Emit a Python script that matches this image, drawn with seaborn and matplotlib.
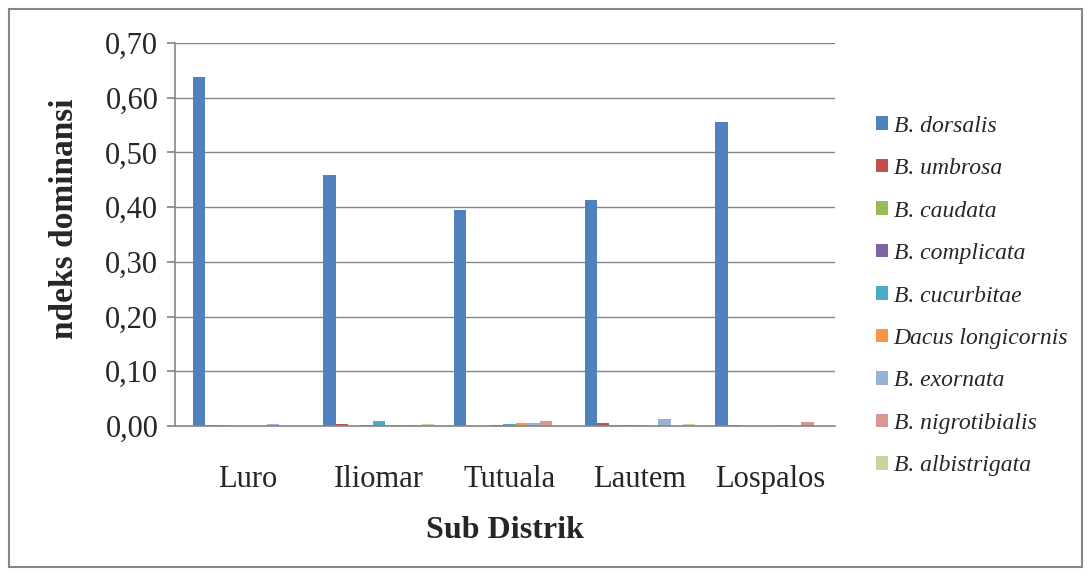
import matplotlib
matplotlib.use("Agg")
import matplotlib.pyplot as plt
import seaborn as sns
import pandas as pd
from matplotlib.patches import Rectangle
from matplotlib.ticker import FuncFormatter

districts = ["Luro", "Iliomar", "Tutuala", "Lautem", "Lospalos"]
species = ["B. dorsalis", "B. umbrosa", "B. caudata", "B. complicata", "B. cucurbitae",
           "Dacus longicornis", "B. exornata", "B. nigrotibialis", "B. albistrigata"]
colors = ["#4F81BD", "#C0504D", "#9BBB59", "#8064A2", "#4BACC6",
          "#F79646", "#95B3D7", "#D99694", "#C3D69B"]

b_dorsalis      = [0.638, 0.458, 0.394, 0.413, 0.556]
b_umbrosa       = [0.001, 0.004, 0.000, 0.006, 0.001]
b_caudata       = [0.001, 0.000, 0.000, 0.001, 0.000]
b_complicata    = [0.000, 0.001, 0.001, 0.002, 0.000]
b_cucurbitae    = [0.000, 0.010, 0.003, 0.002, 0.000]
dacus_longicorn = [0.000, 0.001, 0.005, 0.000, 0.001]
b_exornata      = [0.003, 0.001, 0.005, 0.013, 0.000]
b_nigrotibialis = [0.000, 0.001, 0.010, 0.000, 0.007]
b_albistrigata  = [0.000, 0.003, 0.000, 0.003, 0.000]

series = [b_dorsalis, b_umbrosa, b_caudata, b_complicata, b_cucurbitae,
          dacus_longicorn, b_exornata, b_nigrotibialis, b_albistrigata]

rows = []
for sp, vals in zip(species, series):
    for d, v in zip(districts, vals):
        rows.append({"district": d, "species": sp, "value": v})
df = pd.DataFrame(rows)

sns.set_theme(style="white")
plt.rcParams["font.family"] = ["Liberation Serif", "DejaVu Serif"]

fig = plt.figure(figsize=(10.91, 5.76), dpi=100)
ax = fig.add_axes([175/1091, 1-426/576, 660/1091, 383/576])

sns.barplot(data=df, x="district", y="value", hue="species", hue_order=species,
            order=districts, palette=colors, width=0.848, ax=ax, saturation=1,
            errorbar=None, edgecolor="none", linewidth=0)

ax.set_xlim(-0.56, 4.493)
ax.set_ylim(0, 0.70)
ax.set_yticks([i/10 for i in range(8)])
ax.yaxis.set_major_formatter(FuncFormatter(lambda v, p: f"{v:.2f}".replace(".", ",")))
ax.grid(axis="y", color="#868686", linewidth=1)
ax.set_axisbelow(True)
for s in ["top", "right"]:
    ax.spines[s].set_visible(False)
for s in ["left", "bottom"]:
    ax.spines[s].set_color("#868686")
    ax.spines[s].set_linewidth(1.2)
ax.tick_params(axis="y", which="major", left=True, length=6, color="#868686",
               labelsize=22, pad=6)
ax.tick_params(axis="x", bottom=False, labelsize=22, pad=22)
ax.set_ylabel("ndeks dominansi", fontsize=24, fontweight="bold")
ax.yaxis.set_label_coords(-0.144, 0.54)
ax.set_xlabel("Sub Distrik", fontsize=23, fontweight="bold", labelpad=16)

leg = ax.legend(loc="center left", bbox_to_anchor=(876/1091, 1-296/576),
                bbox_transform=fig.transFigure, frameon=False,
                prop={"style": "italic", "size": 17}, handlelength=0.5, handleheight=0.5,
                labelspacing=0.91, handletextpad=0.25, borderaxespad=0, borderpad=0)

fig.patches.append(Rectangle((9/1091, 9/576), 1-18/1091, 1-18/576, transform=fig.transFigure,
                             fill=False, edgecolor="#868686", linewidth=1.5))
fig.savefig("out.png", dpi=100)
